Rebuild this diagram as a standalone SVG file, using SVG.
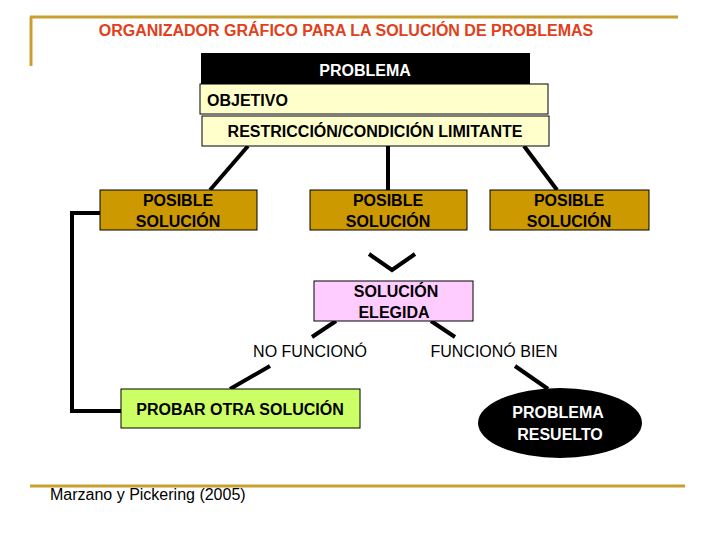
<svg xmlns="http://www.w3.org/2000/svg" width="720" height="540" viewBox="0 0 720 540">
<style>
text{font-family:"Liberation Sans",Arial,sans-serif;font-size:16px;text-anchor:middle}
.b{font-weight:bold}
.c{stroke:#000;stroke-width:4;fill:none}
.box{stroke:#000;stroke-width:1}
</style>
<rect width="720" height="540" fill="#fff"/>
<g id="frame" stroke="#c8a032" stroke-width="3">
<line x1="30" y1="17" x2="678" y2="17"/><line x1="31" y1="17" x2="31" y2="66"/>
<line x1="30" y1="486" x2="685" y2="486"/>
</g>
<text x="346" y="36" class="b" fill="#e0401a">ORGANIZADOR GRÁFICO PARA LA SOLUCIÓN DE PROBLEMAS</text>
<g id="connectors" class="c">
<line x1="248" y1="146" x2="210" y2="190"/>
<line x1="388" y1="146" x2="388" y2="190"/>
<line x1="524" y1="146" x2="557" y2="190"/>
<polyline points="369,254 392,270 415,254"/>
<line x1="336" y1="321" x2="312" y2="337"/>
<line x1="431" y1="321" x2="455" y2="337"/>
<line x1="270" y1="366" x2="230" y2="389"/>
<line x1="515" y1="366" x2="548" y2="389"/>
<polyline points="100,213 72,213 72,411 121,411"/>
</g>
<g id="problema"><rect x="201" y="53" width="329" height="31" fill="#000"/><text x="365" y="76" class="b" fill="#fff">PROBLEMA</text></g>
<g id="objetivo"><rect class="box" x="200" y="84" width="348" height="30" fill="#ffffcc"/><text x="207" y="106" class="b" style="text-anchor:start">OBJETIVO</text></g>
<g id="restriccion"><rect class="box" x="202" y="116" width="347" height="30" fill="#ffffcc"/><text x="375" y="137" class="b">RESTRICCIÓN/CONDICIÓN LIMITANTE</text></g>
<g id="posible1"><rect class="box" x="100" y="190" width="157" height="40" fill="#cc9900"/><text x="178" y="206" class="b" fill="#000">POSIBLE</text><text x="178" y="227" class="b">SOLUCIÓN</text></g>
<g id="posible2"><rect class="box" x="310" y="190" width="157" height="40" fill="#cc9900"/><text x="388" y="206" class="b">POSIBLE</text><text x="388" y="227" class="b">SOLUCIÓN</text></g>
<g id="posible3"><rect class="box" x="490" y="190" width="159" height="40" fill="#cc9900"/><text x="569" y="206" class="b">POSIBLE</text><text x="569" y="227" class="b">SOLUCIÓN</text></g>
<g id="elegida"><rect class="box" x="314" y="281" width="159" height="40" fill="#ffccff"/><text x="396" y="297" class="b">SOLUCIÓN</text><text x="394" y="318" class="b">ELEGIDA</text></g>
<text x="310" y="357" font-size="15">NO FUNCIONÓ</text>
<text x="494" y="357" font-size="15">FUNCIONÓ BIEN</text>
<g id="probar"><rect class="box" x="121" y="389" width="239" height="39" fill="#ccff66"/><text x="240" y="415" class="b">PROBAR OTRA SOLUCIÓN</text></g>
<g id="resuelto"><ellipse cx="560" cy="423" rx="82" ry="35" fill="#000"/><text x="558" y="418" class="b" fill="#fff">PROBLEMA</text><text x="560" y="440" class="b" fill="#fff">RESUELTO</text></g>
<text x="50" y="500" font-size="15" style="text-anchor:start">Marzano y Pickering  (2005)</text>
</svg>
